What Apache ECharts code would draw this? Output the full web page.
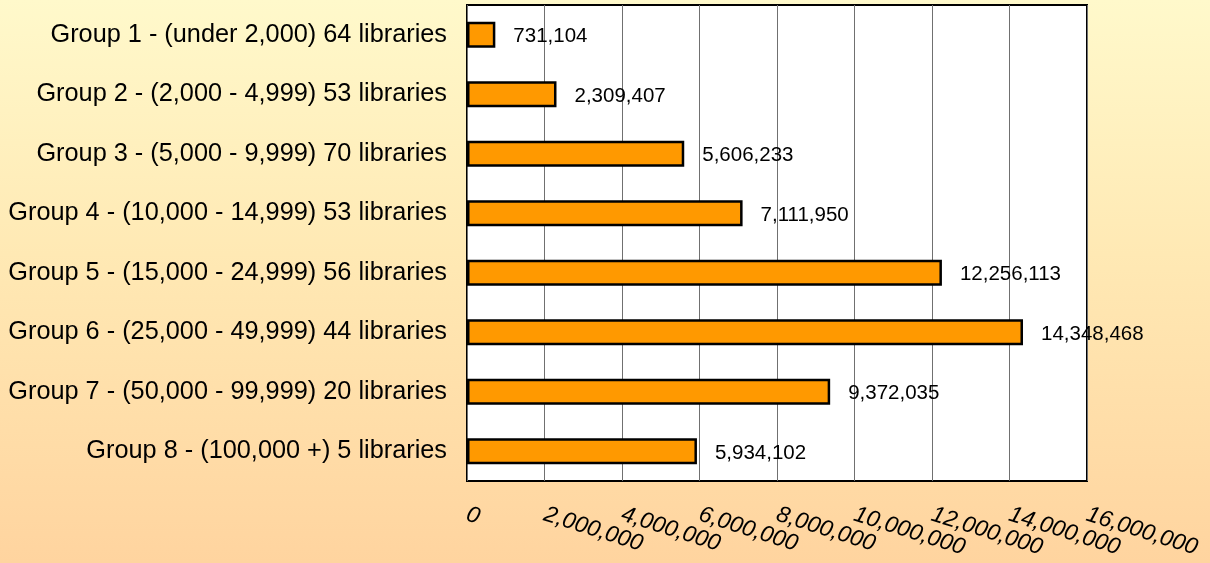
<!DOCTYPE html>
<html>
<head>
<meta charset="utf-8">
<script src="https://cdn.jsdelivr.net/npm/echarts@6/dist/echarts.min.js"></script>
<style>
  html, body { margin: 0; padding: 0; }
  body { background: linear-gradient(to bottom, #fff9cb 0%, #ffe9b4 45%, #ffd49f 100%); }
  #chart { width: 1210px; height: 563px; }
</style>
</head>
<body>
<div id="chart"></div>
<script>
const groups = [
  'Group 1 - (under 2,000) 64 libraries',
  'Group 2 - (2,000 - 4,999) 53 libraries',
  'Group 3 - (5,000 - 9,999) 70 libraries',
  'Group 4 - (10,000 - 14,999) 53 libraries',
  'Group 5 - (15,000 - 24,999) 56 libraries',
  'Group 6 - (25,000 - 49,999) 44 libraries',
  'Group 7 - (50,000 - 99,999) 20 libraries',
  'Group 8 - (100,000 +) 5 libraries'
]
const circulation = [731104, 2309407, 5606233, 7111950, 12256113, 14348468, 9372035, 5934102]
const axisMax = 16000000
const axisStep = 2000000

const fmt = (v) => Number(v).toLocaleString('en-US')

const chart = echarts.init(document.getElementById('chart'))
chart.setOption({
  backgroundColor: 'transparent',
  textStyle: { fontFamily: '"Liberation Sans", Arial, sans-serif' },
  grid: {
    left: 467, right: 123, top: 5, bottom: 82,
    show: true,
    backgroundColor: '#ffffff',
    borderColor: '#000000',
    borderWidth: 2
  },
  xAxis: {
    type: 'value',
    min: 0,
    max: axisMax,
    interval: axisStep,
    axisLine: { show: false },
    axisTick: { show: false },
    splitLine: { show: true, lineStyle: { color: '#707070', width: 1 } },
    axisLabel: {
      rotate: -17.5,
      margin: 33,
      color: '#000000',
      fontSize: 23,
      fontStyle: 'italic',
      showMinLabel: true,
      showMaxLabel: true,
      formatter: fmt
    }
  },
  yAxis: {
    type: 'category',
    inverse: true,
    data: groups,
    axisLine: { show: false },
    axisTick: { show: false },
    axisLabel: { color: '#000000', fontSize: 25.3, margin: 20, padding: [6, 0, 0, 0] }
  },
  series: [
    {
      type: 'bar',
      data: circulation,
      barWidth: 26,
      itemStyle: { color: '#ff9900', borderColor: '#000000', borderWidth: 2.5 },
      label: {
        show: true,
        position: 'right',
        distance: 18,
        offset: [0, 2],
        color: '#000000',
        fontSize: 20.5,
        formatter: (p) => fmt(p.value)
      },
      z: 3
    }
  ]
})
</script>
</body>
</html>
